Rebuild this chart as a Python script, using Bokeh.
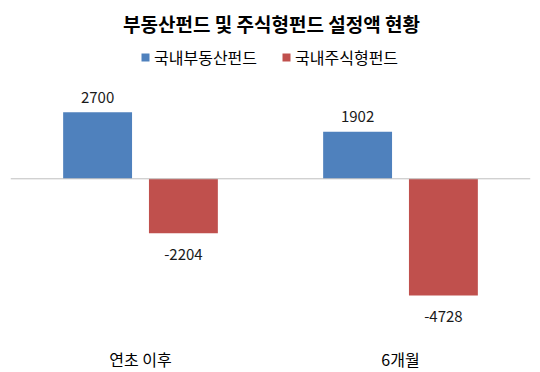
from bokeh.plotting import figure
from bokeh.models import ColumnDataSource, FactorRange, Range1d, Span, Legend, LegendItem, Label
from bokeh.transform import dodge
from bokeh.core.properties import value
from bokeh.embed import file_html
from bokeh.resources import INLINE

# ---- data ----
categories = ["연초 이후", "6개월"]
series_names = ["국내부동산펀드", "국내주식형펀드"]
realestate = [2700, 1902]
equity = [-2204, -4728]
title_text = "부동산펀드 및 주식형펀드 설정액 현황"

FONT = "Noto Sans CJK KR"
BLUE = "#4f81bd"
RED = "#c0504d"

W, H = 540, 372
Y0, Y1 = -7845, 7221
p = figure(width=W, height=H, x_range=FactorRange(*categories),
           y_range=Range1d(Y0, Y1), output_backend="svg",
           toolbar_location=None, y_axis_location=None, x_axis_location=None,
           min_border_left=10, min_border_right=10, min_border_top=0,
           min_border_bottom=0)
p.outline_line_color = None
p.xgrid.grid_line_color = None
p.ygrid.grid_line_color = None

src = ColumnDataSource(dict(
    cat=categories, re=realestate, eq=equity, base=[Y0] * len(categories),
    re_lbl=[str(v) for v in realestate], eq_lbl=[str(v) for v in equity]))

r1 = p.vbar(x=dodge("cat", -0.165, range=p.x_range), top="re", bottom=0, width=0.265,
            source=src, fill_color=BLUE, line_color=None)
r2 = p.vbar(x=dodge("cat", 0.165, range=p.x_range), top="eq", bottom=0, width=0.265,
            source=src, fill_color=RED, line_color=None)

p.add_layout(Span(location=0, dimension="width", line_color="#bfbfbf", line_width=1))

p.text(x=dodge("cat", -0.165, range=p.x_range), y="re", text="re_lbl", source=src,
       y_offset=-15, text_align="center", text_baseline="middle",
       text_font=value(FONT), text_font_size="15px", text_color="#1a1a1a")
p.text(x=dodge("cat", 0.165, range=p.x_range), y="eq", text="eq_lbl", source=src,
       y_offset=21, text_align="center", text_baseline="middle",
       text_font=value(FONT), text_font_size="15px", text_color="#1a1a1a")

# category labels under the plot
p.text(x="cat", y="base", text="cat", source=src, y_offset=-14,
       text_align="center", text_baseline="middle",
       text_font=value(FONT), text_font_size="16px", text_color="#000000")

p.add_layout(Label(x=261, y=349.5, x_units="screen", y_units="screen", text=title_text,
                   text_align="center", text_baseline="middle", text_font=FONT,
                   text_font_size="19px", text_font_style="bold", text_color="#000000"))

legend = Legend(items=[LegendItem(label=series_names[0], renderers=[r1]),
                       LegendItem(label=series_names[1], renderers=[r2])],
                location=(130, 303), orientation="horizontal",
                glyph_width=10, glyph_height=10, label_standoff=4, spacing=24,
                padding=0, margin=0, border_line_color=None, background_fill_alpha=0,
                label_text_font=FONT, label_text_font_size="16px",
                label_text_color="#000000", label_height=20)
p.add_layout(legend, "center")

open("out.html", "w").write(file_html(p, INLINE))
